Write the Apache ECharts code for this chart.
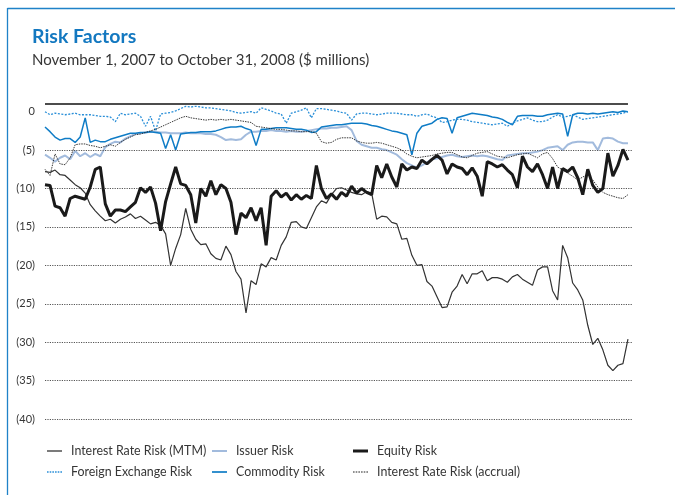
<!DOCTYPE html>
<html>
<head>
<meta charset="utf-8">
<script src="https://cdn.jsdelivr.net/npm/echarts@6/dist/echarts.min.js"></script>
<style>
  html, body { margin: 0; padding: 0; background: #ffffff; }
  #chart { width: 675px; height: 495px; }
</style>
</head>
<body>
<div id="chart"></div>
<script>
// Daily risk readings, $ millions, shown as losses below zero.
// One value per sampled trading day from Nov 1, 2007 to Oct 31, 2008.
const interestRateMtm = [
  -7.8,-7.9,-7.6,-8.2,-8.3,-8.9,-9.5,-9.9,-10.6,-12.1,
  -12.9,-13.6,-14.2,-14.0,-14.5,-14.0,-13.7,-13.3,-13.9,-13.6,
  -14.1,-14.6,-14.4,-14.8,-15.9,-20.0,-17.8,-16.0,-12.6,-15.3,
  -16.6,-17.3,-17.2,-18.5,-19.1,-19.3,-17.5,-18.6,-20.8,-21.8,
  -26.2,-22.0,-22.5,-19.8,-20.2,-19.0,-19.3,-17.4,-16.3,-14.4,
  -14.3,-15.0,-15.2,-13.8,-12.4,-11.6,-11.9,-10.8,-10.0,-9.9,
  -10.2,-10.5,-10.7,-10.8,-10.4,-10.6,-14.0,-13.6,-13.7,-14.4,
  -14.6,-16.6,-16.5,-18.7,-20.0,-19.9,-22.1,-22.7,-24.1,-25.5,
  -25.4,-23.5,-22.7,-21.2,-22.4,-21.1,-21.1,-20.7,-22.0,-21.6,
  -21.6,-21.8,-22.2,-21.5,-21.2,-21.8,-22.2,-22.6,-20.6,-20.2,
  -20.2,-23.3,-24.5,-17.4,-19.0,-22.3,-23.2,-24.5,-27.8,-30.3,
  -29.5,-31.0,-33.0,-33.7,-33.0,-32.8,-29.6
];
const interestRateAccrual = [
  -7.5,-8.3,-5.5,-6.8,-6.9,-6.0,-4.3,-4.2,-4.2,-4.4,
  -4.5,-4.7,-4.5,-4.3,-4.5,-4.0,-3.6,-3.3,-3.0,-2.9,
  -2.7,-2.5,-2.3,-2.0,-1.7,-1.4,-1.1,-0.8,-0.6,-0.8,
  -0.9,-1.0,-1.1,-1.0,-1.1,-1.0,-1.1,-1.0,-1.1,-1.2,
  -1.3,-1.4,-1.9,-2.0,-2.1,-2.2,-2.3,-2.3,-2.4,-2.5,
  -2.5,-2.6,-2.6,-2.6,-2.8,-3.9,-4.1,-4.0,-3.6,-3.4,
  -3.4,-3.4,-3.8,-4.0,-4.1,-4.1,-4.0,-4.1,-4.3,-4.5,
  -4.7,-5.0,-5.5,-5.8,-6.0,-5.9,-5.8,-5.7,-5.5,-5.4,
  -5.3,-5.3,-5.6,-5.9,-6.0,-5.7,-5.4,-5.3,-5.2,-5.5,
  -5.8,-5.9,-6.0,-5.8,-5.6,-5.5,-5.4,-5.7,-6.0,-5.5,
  -5.3,-6.1,-7.2,-7.6,-8.0,-8.4,-8.9,-8.5,-8.2,-8.9,
  -9.8,-10.5,-10.8,-11.0,-11.2,-11.3,-10.8
];
const equity = [
  -9.5,-9.6,-12.3,-12.5,-13.6,-11.3,-11.0,-11.2,-11.4,-9.8,
  -7.5,-7.2,-12.0,-13.6,-12.8,-12.8,-13.0,-12.4,-11.8,-9.9,
  -10.5,-9.8,-11.9,-15.5,-11.7,-9.4,-7.2,-9.4,-9.6,-10.8,
  -14.5,-10.0,-11.0,-9.0,-10.8,-9.5,-10.0,-11.8,-16.0,-13.2,
  -13.8,-12.5,-14.2,-12.5,-17.4,-11.0,-10.3,-11.1,-10.6,-11.5,
  -10.8,-11.4,-10.9,-11.3,-7.0,-10.0,-11.3,-10.7,-11.4,-10.5,
  -11.0,-9.7,-10.6,-10.0,-10.5,-10.8,-7.0,-8.6,-6.8,-8.5,
  -9.8,-6.8,-7.6,-7.2,-7.4,-6.3,-6.8,-6.2,-5.7,-6.3,
  -8.1,-6.8,-7.2,-7.4,-8.2,-7.3,-8.4,-11.0,-6.5,-6.8,
  -7.2,-6.9,-7.6,-8.2,-9.9,-5.8,-7.2,-7.8,-6.8,-8.2,
  -10.0,-7.2,-10.0,-7.4,-7.8,-7.2,-8.6,-10.8,-7.5,-9.6,
  -10.5,-10.0,-5.4,-8.4,-7.0,-4.9,-6.3
];
const issuer = [
  -5.6,-6.0,-6.5,-6.0,-5.7,-6.2,-5.1,-5.8,-5.4,-5.9,
  -5.5,-5.8,-4.6,-4.2,-3.9,-4.0,-3.5,-3.2,-2.9,-2.8,
  -2.7,-2.6,-2.6,-2.7,-2.7,-2.8,-2.8,-2.8,-2.7,-2.8,
  -2.8,-2.8,-2.9,-2.9,-3.0,-3.3,-3.7,-3.6,-3.7,-3.6,
  -3.0,-2.6,-2.6,-2.5,-2.5,-2.4,-2.5,-2.5,-2.6,-2.5,
  -2.6,-2.6,-2.5,-2.4,-2.3,-2.2,-2.2,-2.1,-2.1,-2.0,
  -1.9,-2.4,-3.8,-4.3,-4.5,-4.7,-4.7,-4.9,-5.0,-5.3,
  -5.6,-6.2,-6.7,-7.0,-7.3,-7.0,-6.6,-6.2,-6.1,-5.9,
  -5.7,-5.6,-5.8,-5.9,-5.8,-5.7,-5.8,-5.7,-5.8,-6.0,
  -6.2,-6.3,-5.7,-5.6,-5.5,-5.4,-5.4,-5.3,-5.2,-5.0,
  -4.7,-4.6,-4.5,-5.0,-4.3,-4.0,-3.9,-3.9,-4.0,-4.0,
  -5.0,-3.5,-3.4,-3.5,-3.9,-4.1,-4.1
];
const commodity = [
  -2.0,-2.6,-3.3,-3.7,-3.5,-3.5,-4.0,-3.3,-0.8,-4.0,
  -3.7,-3.9,-3.9,-3.6,-3.4,-3.2,-3.0,-2.8,-2.8,-2.7,
  -2.7,-2.6,-2.7,-2.8,-4.8,-3.0,-5.0,-2.9,-2.8,-2.7,
  -2.7,-2.6,-2.6,-2.6,-2.5,-2.3,-2.1,-2.0,-2.0,-1.9,
  -2.2,-2.4,-4.4,-2.3,-2.3,-2.2,-2.1,-2.1,-2.1,-2.2,
  -2.3,-2.3,-2.4,-2.7,-2.6,-2.0,-1.9,-1.8,-1.7,-1.7,
  -1.6,-1.5,-1.5,-1.5,-1.6,-1.8,-1.9,-2.1,-2.3,-2.5,
  -2.6,-2.8,-3.0,-5.6,-2.8,-1.9,-1.7,-1.5,-1.0,-0.8,
  -0.9,-2.8,-0.8,-0.6,-0.4,-0.2,-0.3,-0.4,-0.5,-0.7,
  -0.8,-1.0,-1.4,-1.7,-0.6,-0.5,-0.5,-0.5,-0.6,-0.6,
  -0.4,-0.3,-0.2,-0.3,-3.2,-0.4,-0.2,-0.2,-0.3,-0.2,
  -0.3,-0.2,-0.1,0.0,-0.1,0.1,0.0
];
const foreignExchange = [
  0.0,-0.4,-0.2,-0.3,-0.4,-0.3,-0.2,-0.4,-0.4,-0.4,
  -0.5,-0.6,-0.6,-0.7,-1.3,-0.2,-0.4,-0.3,-0.2,-0.6,
  -1.9,-0.6,-2.5,-0.3,-0.2,-0.1,0.1,0.4,0.7,0.6,
  0.7,0.6,0.5,0.5,0.4,0.3,0.2,0.1,-0.1,-0.2,
  -0.1,0.0,-0.2,0.5,0.3,0.1,-0.2,-0.3,-1.5,-0.2,
  0.0,0.2,0.5,-0.8,0.4,0.4,0.3,0.2,0.1,-0.1,
  -0.2,-1.1,-0.3,-0.2,-0.2,-0.3,-0.4,-0.3,-0.2,-0.2,
  -0.2,-0.3,-0.4,-0.4,-0.6,-0.4,-0.3,-0.6,-0.8,-1.4,
  -1.3,-1.1,-1.0,-1.0,-1.1,-1.3,-1.4,-1.5,-1.6,-1.7,
  -1.6,-1.5,-1.9,-1.5,-1.2,-1.0,-0.8,-1.1,-1.3,-1.3,
  -1.1,-0.7,-0.4,-0.7,-0.6,-0.4,-0.7,-1.0,-0.9,-0.8,
  -0.7,-0.6,-0.5,-0.4,-0.3,-0.2,0.0
];

// Dotted reference levels and the solid rule across the top of the plot.
const gridLevels = [-5, -10, -15, -20, -25, -30, -35, -40];
const topRuleLevel = 1;

const FONT = 'Lato, "Open Sans", sans-serif';
const TEXT = '#363636';

// Legend swatches: plain strokes (solid bars of a given thickness, or dotted runs).
const solidIcon = (h) => 'path://M0,0h15v' + h + 'h-15z';
const dottedIcon = (h) => {
  let p = 'path://';
  for (let x = 0; x < 15; x += 2.5) p += 'M' + x + ',0h1.5v' + h + 'h-1.5z';
  return p;
};

const withDay = (arr) => arr.map((v, i) => [i, v]);
const lastDay = interestRateMtm.length - 1;

function lineSeries(name, values, color, width, type, z) {
  return {
    name: name,
    type: 'line',
    data: withDay(values),
    showSymbol: false,
    symbol: 'none',
    z: z,
    lineStyle: { color: color, width: width, type: type },
    itemStyle: { color: color },
    emphasis: { disabled: true },
    animation: false
  };
}

const chart = echarts.init(document.getElementById('chart'), null, { renderer: 'canvas' });

const legendBase = {
  orient: 'vertical',
  top: 445,
  padding: 0,
  itemWidth: 15,
  itemHeight: 14,
  itemGap: 9,
  symbolKeepAspect: true,
  textStyle: { fontFamily: FONT, fontSize: 12.4, color: TEXT, padding: [0, 0, 0, 4] },
  selectedMode: false
};

chart.setOption({
  backgroundColor: '#ffffff',
  animation: false,
  title: {
    text: 'Risk Factors',
    subtext: 'November 1, 2007 to October 31, 2008 ($ millions)',
    left: 27,
    top: 22,
    itemGap: 6,
    textStyle: { fontFamily: FONT, fontWeight: 'bold', fontSize: 19.5, color: '#1378c0' },
    subtextStyle: { fontFamily: FONT, fontSize: 15, color: TEXT }
  },
  grid: { left: 45, right: 42, top: 104, bottom: 76, containLabel: false },
  xAxis: {
    type: 'value',
    min: 0,
    max: lastDay + 1,
    show: false
  },
  yAxis: {
    type: 'value',
    min: -40,
    max: topRuleLevel,
    interval: 5,
    axisLine: { show: false },
    axisTick: { show: false },
    splitLine: { show: false },
    axisLabel: {
      margin: 10,
      fontFamily: FONT,
      fontSize: 11,
      color: TEXT,
      formatter: function (v) {
        if (v === 0) return '0';
        if (v < 0 && v % 5 === 0) return '(' + (-v) + ')';
        return '';
      }
    }
  },
  legend: [
    Object.assign({}, legendBase, { left: 47, data: [
      { name: 'Interest Rate Risk (MTM)', icon: solidIcon(1.3) },
      { name: 'Foreign Exchange Risk', icon: dottedIcon(1.3) }
    ] }),
    Object.assign({}, legendBase, { left: 212, data: [
      { name: 'Issuer Risk', icon: solidIcon(2) },
      { name: 'Commodity Risk', icon: solidIcon(1.7) }
    ] }),
    Object.assign({}, legendBase, { left: 353, data: [
      { name: 'Equity Risk', icon: solidIcon(3) },
      { name: 'Interest Rate Risk (accrual)', icon: dottedIcon(1) }
    ] })
  ],
  series: [
    {
      name: 'levels',
      type: 'line',
      data: [],
      silent: true,
      z: 1,
      markLine: {
        silent: true,
        symbol: ['none', 'none'],
        label: { show: false },
        animation: false,
        data: gridLevels.map(v => ({ yAxis: v, lineStyle: { color: '#555', width: 1, type: [1.2, 1.2] } }))
          .concat([[
            { coord: [0, topRuleLevel], lineStyle: { color: '#111', width: 1.5, type: 'solid' } },
            { coord: [lastDay, topRuleLevel] }
          ]])
      }
    },
    lineSeries('Issuer Risk', issuer, '#a2bbdd', 2, 'solid', 3),
    lineSeries('Commodity Risk', commodity, '#0f7cc6', 1.5, 'solid', 4),
    lineSeries('Foreign Exchange Risk', foreignExchange, '#2a8fd8', 1.3, [2, 1.5], 5),
    lineSeries('Interest Rate Risk (accrual)', interestRateAccrual, '#222', 0.9, [1.5, 1], 6),
    lineSeries('Interest Rate Risk (MTM)', interestRateMtm, '#333', 1.2, 'solid', 7),
    lineSeries('Equity Risk', equity, '#1a1a1a', 3, 'solid', 8)
  ],
  graphic: [
    { type: 'line', shape: { x1: 7.5, y1: 8.5, x2: 675, y2: 8.5 }, style: { stroke: '#1f82c8', lineWidth: 1.3 }, silent: true },
    { type: 'line', shape: { x1: 7.5, y1: 8, x2: 7.5, y2: 495 }, style: { stroke: '#1f82c8', lineWidth: 1.3 }, silent: true }
  ]
});
</script>
</body>
</html>
